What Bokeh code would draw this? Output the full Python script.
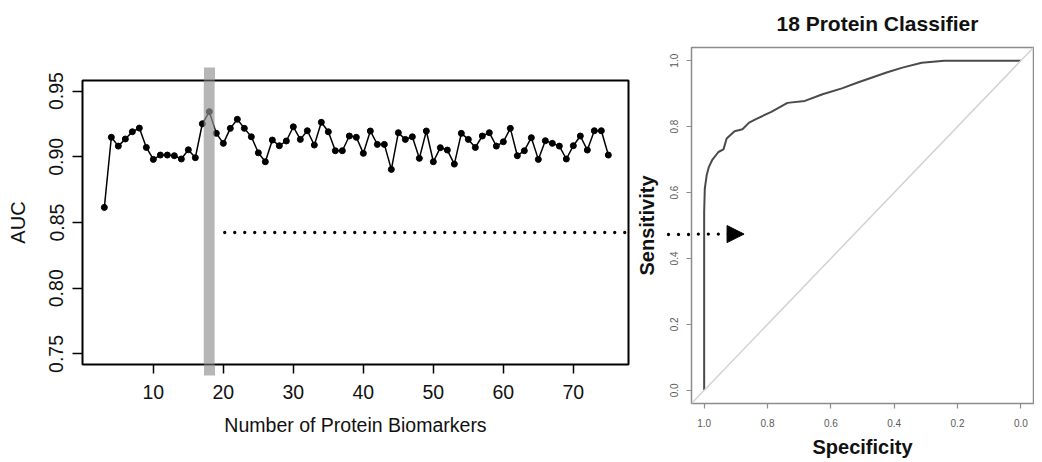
from bokeh.plotting import figure
from bokeh.models import (Range1d, FixedTicker, BoxAnnotation, Arrow, NormalHead,
                          NumeralTickFormatter, Slope, LinearAxis)
from bokeh.layouts import row
from bokeh.embed import file_html
from bokeh.resources import INLINE

# ---------------- data ----------------
n_markers = list(range(3, 76))
auc = [0.8615, 0.9148, 0.9081, 0.9135, 0.9190, 0.9218, 0.9071, 0.8980, 0.9013, 0.9013,
       0.9008, 0.8983, 0.9053, 0.8993, 0.9251, 0.9343, 0.9178, 0.9102, 0.9216, 0.9285,
       0.9216, 0.9152, 0.9030, 0.8962, 0.9127, 0.9084, 0.9120, 0.9228, 0.9132, 0.9198,
       0.9089, 0.9262, 0.9190, 0.9046, 0.9046, 0.9158, 0.9148, 0.9026, 0.9196, 0.9094,
       0.9094, 0.8904, 0.9183, 0.9132, 0.9152, 0.8988, 0.9196, 0.8962, 0.9069, 0.9051,
       0.8944, 0.9178, 0.9132, 0.9071, 0.9158, 0.9183, 0.9081, 0.9114, 0.9216, 0.9008,
       0.9046, 0.9145, 0.8980, 0.9122, 0.9102, 0.9081, 0.8983, 0.9084, 0.9158, 0.9051,
       0.9198, 0.9198, 0.9013]
x_ticks = [10, 20, 30, 40, 50, 60, 70]
auc_ticks = [0.75, 0.80, 0.85, 0.90, 0.95]
highlight_left, highlight_right = 17.2, 18.75   # selected 18-protein panel
highlight_center = 17.97
ref_auc = 0.8424                                 # dotted reference level
dotted_start_n = 20.2

specificity = [1.0, 1.0, 0.998, 0.992, 0.985, 0.975, 0.955, 0.939, 0.929, 0.904, 0.879,
               0.858, 0.838, 0.788, 0.737, 0.682, 0.626, 0.565, 0.515, 0.424, 0.374,
               0.313, 0.242, 0.0]
sensitivity = [0.0, 0.541, 0.612, 0.653, 0.678, 0.698, 0.723, 0.731, 0.764, 0.786, 0.792,
               0.812, 0.822, 0.845, 0.872, 0.878, 0.898, 0.916, 0.934, 0.964, 0.979,
               0.994, 1.0, 1.0]
roc_ticks = [0.0, 0.2, 0.4, 0.6, 0.8, 1.0]
arrow_sens = 0.474
arrow_spec_start, arrow_spec_end = 1.05, 0.874

FONT = "Liberation Sans"
BAND = "#939393"
BAND_ALPHA = 0.68

# ---------------- left panel ----------------
p1 = figure(frame_width=546, frame_height=284,
            x_range=Range1d(-0.12, 77.88), y_range=Range1d(0.742, 0.958),
            output_backend="svg", toolbar_location=None, frame_align=False,
            min_border_left=82, min_border_right=2, min_border_top=80, min_border_bottom=90)
p1.grid.visible = False
p1.outline_line_color = "black"
p1.outline_line_width = 2
p1.outline_line_alpha = 1.0

p1.line(n_markers, auc, line_color="black", line_width=1.5)
p1.scatter(n_markers, auc, size=6, fill_color="black", line_color="black")

band = BoxAnnotation(left=highlight_left, right=highlight_right,
                     fill_color=BAND, fill_alpha=BAND_ALPHA, line_color=None, level="overlay")
p1.add_layout(band)

p1.add_layout(Arrow(x_start=dotted_start_n, y_start=ref_auc, x_end=77.88, y_end=ref_auc,
                    end=None, line_color="black", line_width=3.3, line_dash="0 10",
                    line_cap="round"))

for ax in (p1.xaxis[0], p1.yaxis[0]):
    ax.axis_line_color = None
    ax.major_tick_in = 0
    ax.major_tick_line_width = 1.5
    ax.major_tick_line_color = "black"
    ax.major_label_text_font = FONT
    ax.major_label_text_font_size = "19.5px"
    ax.major_label_text_color = "#111111"
    ax.axis_label_text_font = FONT
    ax.axis_label_text_font_style = "normal"
    ax.axis_label_text_color = "#111111"

# band overhang below the box drawn as a wide minor tick
p1.xaxis.ticker = FixedTicker(ticks=x_ticks, minor_ticks=[highlight_center])
p1.xaxis.major_tick_out = 9
p1.xaxis.minor_tick_in = 0
p1.xaxis.minor_tick_out = 11
p1.xaxis.minor_tick_line_width = 11
p1.xaxis.minor_tick_line_color = BAND
p1.xaxis.minor_tick_line_alpha = BAND_ALPHA
p1.xaxis.axis_label = "Number of Protein Biomarkers"
p1.xaxis.axis_label_text_font_size = "19.5px"
p1.xaxis.major_label_standoff = 9
p1.xaxis.axis_label_standoff = 12

p1.yaxis.ticker = FixedTicker(ticks=auc_ticks)
p1.yaxis.formatter = NumeralTickFormatter(format="0.00")
p1.yaxis.major_tick_out = 10
p1.yaxis.minor_tick_line_color = None
p1.yaxis.major_label_orientation = "vertical"
p1.yaxis.axis_label = "AUC"
p1.yaxis.axis_label_text_font_size = "20px"
p1.yaxis.major_label_standoff = 9
p1.yaxis.axis_label_standoff = 18

# band overhang above the box
top_ax = LinearAxis(ticker=FixedTicker(ticks=[], minor_ticks=[highlight_center]),
                    axis_line_color=None, major_tick_line_color=None,
                    major_label_text_font_size="0px",
                    minor_tick_in=0, minor_tick_out=13, minor_tick_line_width=11,
                    minor_tick_line_color=BAND, minor_tick_line_alpha=BAND_ALPHA)
p1.add_layout(top_ax, "above")

# ---------------- right panel ----------------
p2 = figure(frame_width=342, frame_height=356,
            x_range=Range1d(1.04, -0.04), y_range=Range1d(-0.04, 1.04),
            output_backend="svg", toolbar_location=None, frame_align=False,
            min_border_left=61, min_border_right=1, min_border_top=46, min_border_bottom=52,
            title="18 Protein Classifier")
p2.grid.visible = False
p2.outline_line_color = "#8c8c8c"
p2.outline_line_width = 1.5
p2.outline_line_alpha = 1.0
p2.title.align = "left"
p2.title.offset = 85
p2.title.vertical_align = "top"
p2.title.text_font = FONT
p2.title.text_font_size = "21px"
p2.title.text_font_style = "bold"
p2.title.text_color = "#111111"
p2.title.standoff = 22

p2.add_layout(Slope(gradient=-1, y_intercept=1, line_color="#d2d2d2", line_width=1.5))
p2.line(specificity, sensitivity, line_color="#4a4a4a", line_width=2)

p2.add_layout(Arrow(x_start=arrow_spec_start, y_start=arrow_sens, x_end=arrow_spec_end,
                    y_end=arrow_sens, line_color="black", line_width=3.3, line_dash="0 10",
                    line_cap="round",
                    end=NormalHead(size=17, fill_color="black", line_color="black",
                                   line_width=1)))

for ax in (p2.xaxis[0], p2.yaxis[0]):
    ax.formatter = NumeralTickFormatter(format="0.0")
    ax.axis_line_color = None
    ax.major_tick_out = 5
    ax.major_tick_in = 0
    ax.major_tick_line_color = "#8c8c8c"
    ax.major_tick_line_width = 1.2
    ax.major_label_text_font = FONT
    ax.major_label_text_font_size = "10px"
    ax.major_label_text_color = "#5a5a5a"
    ax.axis_label_text_font = FONT
    ax.axis_label_text_font_size = "20px"
    ax.axis_label_text_font_style = "bold"
    ax.axis_label_text_color = "#111111"

p2.xaxis.ticker = FixedTicker(ticks=roc_ticks)
p2.xaxis.minor_tick_line_color = None
p2.xaxis.axis_label = "Specificity"
p2.xaxis.major_label_standoff = 10
p2.xaxis.axis_label_standoff = 6

# dotted arrow continues outside the box: drawn as a dotted minor tick
p2.yaxis.ticker = FixedTicker(ticks=roc_ticks, minor_ticks=[arrow_sens])
p2.yaxis.minor_tick_in = 0
p2.yaxis.minor_tick_out = 23
p2.yaxis.minor_tick_line_color = "black"
p2.yaxis.minor_tick_line_width = 3.3
p2.yaxis.minor_tick_line_dash = "0 10"
p2.yaxis.minor_tick_line_cap = "round"
p2.yaxis.axis_label = "Sensitivity"
p2.yaxis.major_label_orientation = "vertical"
p2.yaxis.major_label_standoff = -10
p2.yaxis.axis_label_standoff = 10

layout = row(p1, p2)
open("out.html", "w").write(file_html(layout, INLINE))
